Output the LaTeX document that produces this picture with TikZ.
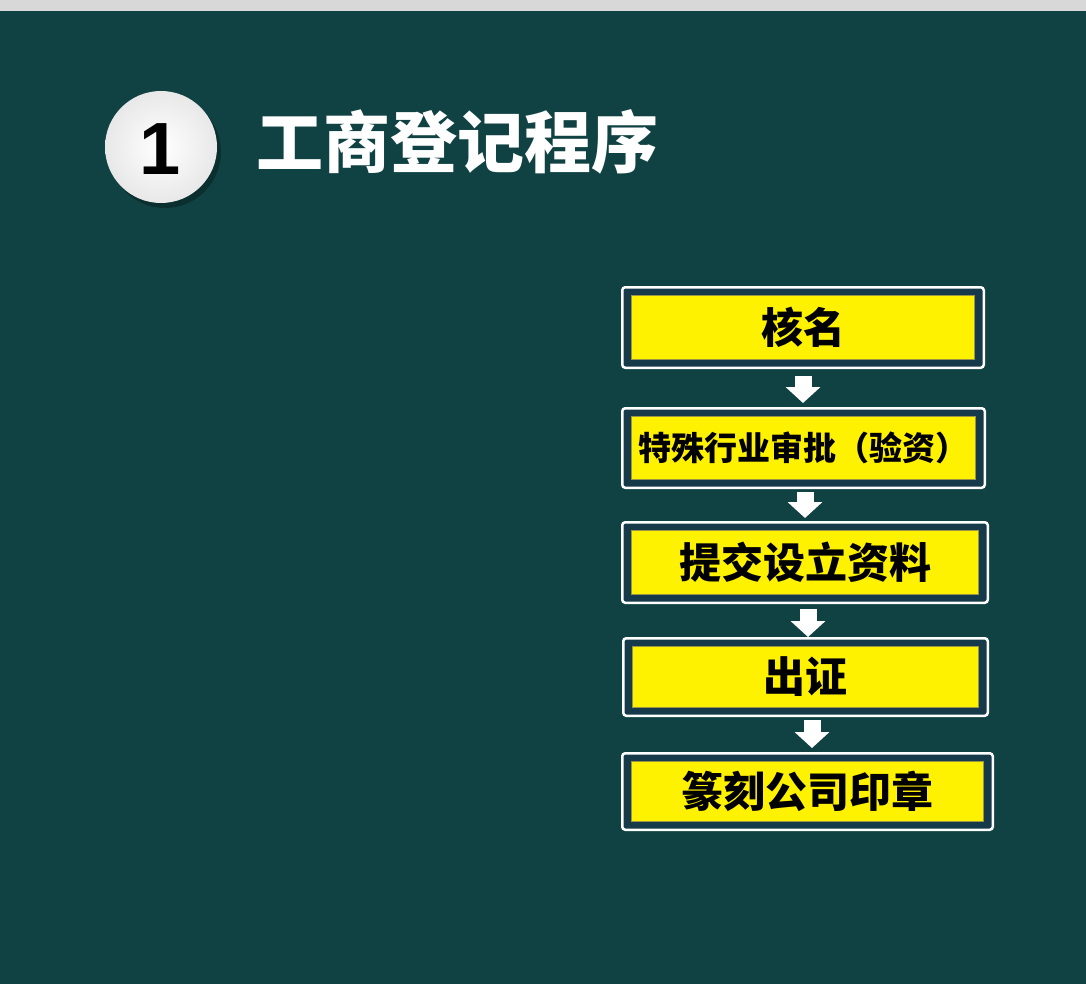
\documentclass[tikz,border=0pt]{standalone}
\usepackage{fontspec}
\newfontfamily\cjk{Noto Sans CJK SC}
\newfontfamily\numfont{Liberation Sans}
\usetikzlibrary{arrows.meta}

\definecolor{bgteal}{RGB}{17,66,67}
\definecolor{boxnavy}{RGB}{22,58,74}
\definecolor{stripgray}{RGB}{216,216,216}

\begin{document}
\begin{tikzpicture}[x=1pt,y=-1pt,
  outerbox/.style={draw=white, line width=2.5pt, rounded corners=3pt, fill=boxnavy, inner sep=0pt},
  innerbox/.style={draw=yellow!55!black, line width=0.6pt, fill=yellow, inner sep=0pt, text=black},
  flowarrow/.style={draw=white, line width=17pt, -{Triangle[width=34pt,length=16pt]}}]

\useasboundingbox (0,0) rectangle (1086,984);
\fill[bgteal] (0,0) rectangle (1086,984);
\fill[stripgray] (0,0) rectangle (1086,11);

% title
\fill[black, opacity=0.3] (165,152) circle (56pt);
\node (num) [circle, minimum size=112pt, inner sep=0pt, inner color=white, outer color=gray!18] at (161,147) {};
\node (numtxt) [inner sep=0pt, text=black, font=\numfont\bfseries\fontsize{74}{74}\selectfont] at (160,149) {1};

\node (title) [anchor=base west, inner sep=0pt, text=white, font=\cjk\bfseries\fontsize{67}{67}\selectfont] at (256,168) {工商登记程序};

% steps
\foreach \n/\cx/\cy/\w/\h/\fs/\txt in {%
    1/803/327.5/364/83/42/核名,
    2/803.5/448/365/82/33/特殊行业审批（验资）,
    3/805/562.5/368/83/42/提交设立资料,
    4/805.5/677/367/80/42/出证,
    5/807.5/791.5/373/79/42/篆刻公司印章}{%
  \node (b\n) [outerbox, minimum width=\w pt-2.5pt, minimum height=\h pt-2.5pt] at (\cx,\cy) {};
  \node (t\n) [innerbox, minimum width=\w pt-21pt, minimum height=\h pt-19pt,
               font=\cjk\bfseries\fontsize{\fs}{\fs}\selectfont] at (b\n) {\txt};
}

% arrows
\draw[flowarrow] ([shift={(0pt,-7pt)}]b1.south) -- ([shift={(-0.5pt,4pt)}]b2.north);
\draw[flowarrow] ([shift={(1.5pt,-3pt)}]b2.south) -- ([shift={(0pt,3pt)}]b3.north);
\draw[flowarrow] ([shift={(3pt,-5pt)}]b3.south) -- ([shift={(2.5pt,0pt)}]b4.north);
\draw[flowarrow] ([shift={(6.5pt,-3pt)}]b4.south) -- ([shift={(4.5pt,4pt)}]b5.north);

\end{tikzpicture}
\end{document}
